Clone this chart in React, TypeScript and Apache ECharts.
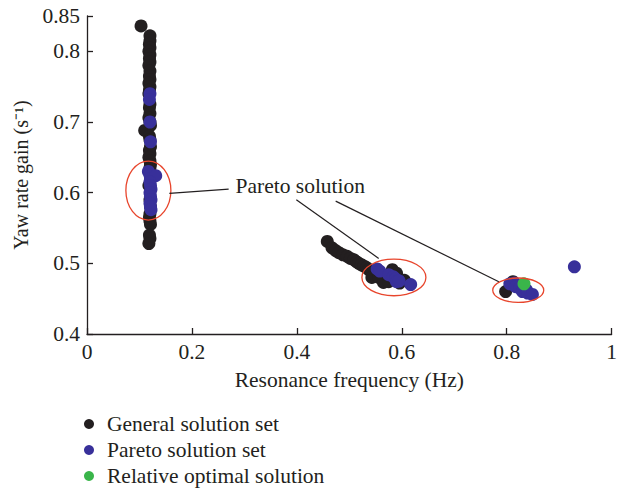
import React, { useEffect, useRef } from "react";
import * as echarts from "echarts";

const xTicks = [0, 0.2, 0.4, 0.6, 0.8, 1];
const yTicks = [0.4, 0.5, 0.6, 0.7, 0.8, 0.85];
const legendNames = ["General solution set", "Pareto solution set", "Relative optimal solution"];
const annotationText = "Pareto solution";

const generalSet: number[][] = [
  [0.103, 0.836],
  [0.12, 0.822], [0.12, 0.815], [0.119, 0.81], [0.12, 0.805], [0.118, 0.8], [0.12, 0.795], [0.119, 0.79], [0.12, 0.785], [0.118, 0.78],
  [0.12, 0.772], [0.119, 0.765], [0.12, 0.76], [0.118, 0.755], [0.12, 0.75], [0.119, 0.745],
  [0.118, 0.74], [0.12, 0.725], [0.119, 0.72], [0.12, 0.712], [0.118, 0.706], [0.12, 0.7], [0.121, 0.695],
  [0.11, 0.688], [0.119, 0.68], [0.12, 0.675], [0.121, 0.665], [0.119, 0.66], [0.12, 0.655], [0.118, 0.65], [0.12, 0.645], [0.121, 0.64], [0.12, 0.635],
  [0.118, 0.61], [0.12, 0.59], [0.121, 0.58], [0.12, 0.57], [0.119, 0.565], [0.12, 0.56], [0.121, 0.555],
  [0.119, 0.54], [0.12, 0.535], [0.118, 0.528],
  [0.458, 0.531], [0.467, 0.522], [0.474, 0.518], [0.48, 0.515], [0.488, 0.512], [0.496, 0.51], [0.502, 0.507], [0.509, 0.505],
  [0.514, 0.502], [0.518, 0.5], [0.523, 0.498], [0.528, 0.496], [0.533, 0.494], [0.537, 0.491], [0.543, 0.487], [0.547, 0.484],
  [0.543, 0.48], [0.556, 0.48], [0.565, 0.473], [0.575, 0.474], [0.582, 0.491], [0.59, 0.486], [0.596, 0.472], [0.605, 0.476],
  [0.798, 0.46], [0.812, 0.474],
];

const paretoSet: number[][] = [
  [0.12, 0.74], [0.119, 0.732], [0.12, 0.7], [0.121, 0.672],
  [0.117, 0.63], [0.12, 0.625], [0.121, 0.62], [0.131, 0.624], [0.12, 0.615], [0.121, 0.61], [0.122, 0.605], [0.12, 0.6],
  [0.121, 0.595], [0.122, 0.59], [0.12, 0.585], [0.121, 0.58], [0.122, 0.576],
  [0.553, 0.492], [0.558, 0.489], [0.575, 0.484], [0.584, 0.481], [0.588, 0.478], [0.59, 0.474], [0.595, 0.475], [0.617, 0.47],
  [0.806, 0.471], [0.815, 0.472], [0.817, 0.467], [0.825, 0.465], [0.83, 0.46], [0.838, 0.462], [0.84, 0.458], [0.849, 0.456],
  [0.929, 0.495],
];

const optimalSolution: number[][] = [[0.833, 0.471]];

// annotation anchors in data space (ellipse radii are in pixels)
const ellipseCenters: number[][] = [[0.117, 0.603], [0.585, 0.48], [0.822, 0.462]];
const ellipseRadii: number[][] = [[22.5, 29.5], [32, 18.3], [25.5, 12.2]];
const leaderLines: number[][][] = [
  [[0.157, 0.599], [0.27, 0.605]],
  [[0.399, 0.59], [0.556, 0.507]],
  [[0.474, 0.588], [0.785, 0.474]],
];
const textAnchor = [0.283, 0.61];

const FONT = "'Liberation Serif', 'Times New Roman', serif";
const INK = "#231f20";
const COLORS = ["#231f20", "#38309a", "#3ab54a"];
const FS = 21.5;

export default function App() {
  const ref = useRef<HTMLDivElement>(null);
  useEffect(() => {
    document.body.style.margin = "0";
    const chart = echarts.init(ref.current!, null, { renderer: "svg" });
    const symbolSize = 13;
    chart.setOption({
      animation: false,
      backgroundColor: "#ffffff",
      textStyle: { fontFamily: FONT },
      grid: { left: 87, right: 4, top: 16, bottom: 155, containLabel: false },
      legend: {
        orient: "vertical",
        left: 84,
        top: 413,
        padding: 0,
        itemWidth: 26,
        itemHeight: 10,
        itemGap: 4,
        icon: "circle",
        data: legendNames,
        textStyle: { fontFamily: FONT, fontSize: FS, color: INK },
      },
      xAxis: {
        type: "value",
        min: 0,
        max: 1,
        interval: 0.2,
        name: "Resonance frequency (Hz)",
        nameLocation: "middle",
        nameGap: 35,
        nameTextStyle: { fontFamily: FONT, fontSize: FS, color: INK },
        axisLine: { show: true, lineStyle: { color: INK, width: 1.3 } },
        axisTick: { show: true, inside: true, length: 6, lineStyle: { color: INK, width: 1.3 } },
        axisLabel: {
          fontFamily: FONT, fontSize: FS, color: INK, margin: 7,
          customValues: xTicks,
          formatter: (v: number) => String(v),
        },
        splitLine: { show: false },
      },
      yAxis: {
        type: "value",
        min: 0.4,
        max: 0.85,
        interval: 0.1,
        name: "Yaw rate gain (s⁻¹)",
        nameLocation: "middle",
        nameGap: 56,
        nameTextStyle: { fontFamily: FONT, fontSize: 20, color: INK },
        axisLine: { show: true, lineStyle: { color: INK, width: 1.3 } },
        axisTick: { show: true, inside: true, length: 6, lineStyle: { color: INK, width: 1.3 }, customValues: yTicks },
        axisLabel: {
          fontFamily: FONT, fontSize: FS, color: INK, margin: 7,
          customValues: yTicks,
          formatter: (v: number) => String(Math.round(v * 100) / 100),
        },
        splitLine: { show: false },
      },
      series: [
        { name: legendNames[0], type: "scatter", data: generalSet, symbolSize, itemStyle: { color: COLORS[0], opacity: 1 }, z: 2 },
        { name: legendNames[1], type: "scatter", data: paretoSet, symbolSize, itemStyle: { color: COLORS[1], opacity: 1 }, z: 3 },
        { name: legendNames[2], type: "scatter", data: optimalSolution, symbolSize, itemStyle: { color: COLORS[2], opacity: 1 }, z: 4 },
      ],
    });

    const toPx = (p: number[]) => chart.convertToPixel({ xAxisIndex: 0, yAxisIndex: 0 }, p) as number[];
    const graphics: any[] = [];
    ellipseCenters.forEach((c, i) => {
      const [cx, cy] = toPx(c);
      graphics.push({
        type: "ellipse",
        shape: { cx, cy, rx: ellipseRadii[i][0], ry: ellipseRadii[i][1] },
        style: { fill: "none", stroke: "#e8452c", lineWidth: 1.3 },
        z: 100,
      });
    });
    leaderLines.forEach((l) => {
      const [x1, y1] = toPx(l[0]);
      const [x2, y2] = toPx(l[1]);
      graphics.push({
        type: "line",
        shape: { x1, y1, x2, y2 },
        style: { stroke: INK, lineWidth: 1.2 },
        z: 100,
      });
    });
    const [tx, ty] = toPx(textAnchor);
    graphics.push({
      type: "text",
      x: tx,
      y: ty,
      style: { text: annotationText, fontFamily: FONT, fontSize: FS, fill: INK, verticalAlign: "middle", align: "left" },
      z: 100,
    });
    chart.setOption({ graphic: graphics });

    return () => chart.dispose();
  }, []);
  return <div ref={ref} style={{ width: 620, height: 489 }} />;
}
